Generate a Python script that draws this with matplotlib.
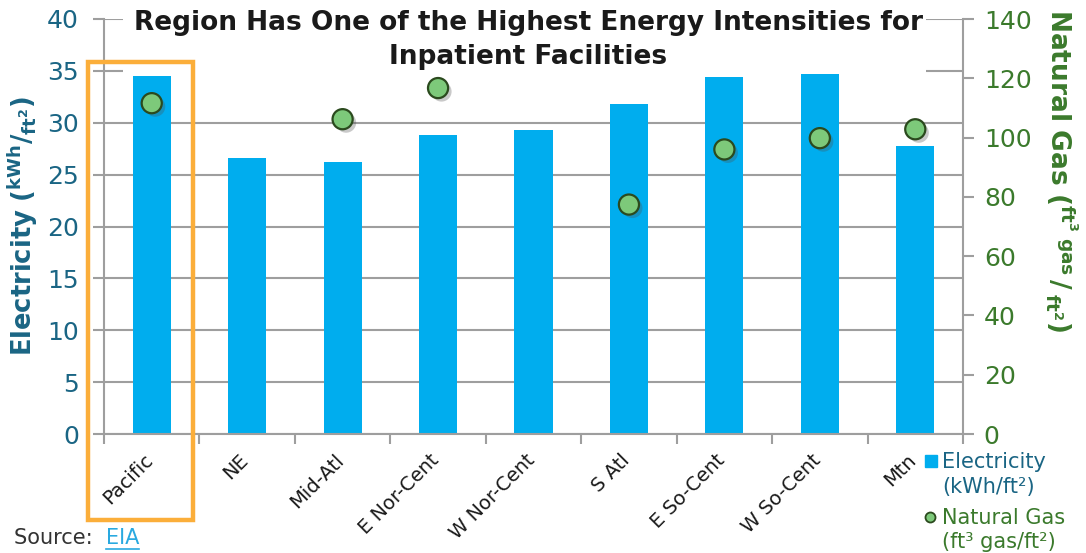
import matplotlib
matplotlib.use("Agg")
import matplotlib.pyplot as plt
import matplotlib.patheffects as pe
import matplotlib.transforms as mtransforms
from matplotlib.patches import Rectangle
from matplotlib.lines import Line2D
import numpy as np

# Energy intensity of inpatient facilities by census region
regions = ["Pacific", "NE", "Mid-Atl", "E Nor-Cent", "W Nor-Cent",
           "S Atl", "E So-Cent", "W So-Cent", "Mtn"]
electricity = [34.5, 26.6, 26.2, 28.8, 29.3, 31.8, 34.4, 34.8, 27.8]   # kWh/ft²
natural_gas = [111.6, np.nan, 106.2, 116.7, np.nan, 77.4, 96.0, 99.8, 102.8]  # ft³ gas/ft²

elec_ticks = list(range(0, 41, 5))
gas_ticks = list(range(0, 141, 20))

BAR = "#00ADEE"
TEAL = "#1A6584"
GREEN = "#3B7A2C"
DOT = "#7DC97A"
DOT_EDGE = "#2B4A1E"
GRID = "#9E9E9E"
ORANGE = "#FBAE3A"

W, H = 1086, 553

plt.rcParams["font.family"] = ["DejaVu Sans"]
plt.rcParams["mathtext.default"] = "regular"

fig = plt.figure(figsize=(W / 100, H / 100), dpi=100)
ax = fig.add_axes([104 / W, 1 - 434 / H, (963 - 104) / W, (434 - 19) / H])
ax2 = ax.twinx()

x = np.arange(len(regions))
ax.bar(x, electricity, width=0.4, color=BAR, zorder=2)

ax.set_xlim(-0.5, len(regions) - 0.5)
ax.set_ylim(0, 40)
ax.set_yticks(elec_ticks)
ax.grid(axis="y", color=GRID, linewidth=1.5, zorder=0)
ax.set_axisbelow(True)

# category labels at bar centres, tick marks on category boundaries
ax.set_xticks(x)
ax.set_xticklabels(regions, rotation=45, ha="right", va="center",
                   rotation_mode="anchor", fontsize=14, color="#1a1a1a")
ax.tick_params(axis="x", which="major", length=0, pad=17)
shift = mtransforms.ScaledTranslation(-2 / 100, 0, fig.dpi_scale_trans)
for lab in ax.get_xticklabels():
    lab.set_transform(lab.get_transform() + shift)
ax.set_xticks(np.arange(-0.5, len(regions), 1.0), minor=True)
ax.tick_params(axis="x", which="minor", length=7, width=1.5, color=GRID,
               direction="out")
ax.tick_params(axis="y", length=8, width=1.5, color=GRID, direction="out",
               labelsize=18, labelcolor=TEAL, pad=10)

for side in ("top", "right"):
    ax.spines[side].set_visible(False)
for side in ("left", "bottom"):
    ax.spines[side].set_color(GRID)
    ax.spines[side].set_linewidth(1.5)

ax.set_ylabel(r"$\mathbf{Electricity}\ \mathbf{(}^{\mathbf{kWh}}\mathbf{/}_{\mathbf{ft^{2}}}\mathbf{)}$",
              fontsize=18.5, color=TEAL)
ax.yaxis.set_label_coords(-0.075, 0.5)

# natural gas on the secondary axis
sc = ax2.scatter(x, natural_gas, s=210, color=DOT, edgecolor=DOT_EDGE,
                 linewidth=1.6, zorder=3)
sc.set_path_effects([pe.SimplePatchShadow(offset=(2.5, -2.5), alpha=0.3,
                                          shadow_rgbFace="#4d4d4d"),
                     pe.Normal()])
ax2.set_ylim(0, 140)
ax2.set_yticks(gas_ticks)
ax2.tick_params(axis="y", length=8, width=1.5, color=GRID, direction="out",
                labelsize=18, labelcolor=GREEN, pad=7)
for side in ("top", "left", "bottom"):
    ax2.spines[side].set_visible(False)
ax2.spines["right"].set_color(GRID)
ax2.spines["right"].set_linewidth(1.5)
ax2.set_ylabel(r"$\mathbf{Natural\ Gas}\ \mathbf{(}^{\mathbf{ft^{3}\ gas}}\,\mathbf{/}\,_{\mathbf{ft^{2}}}\mathbf{)}$",
               fontsize=19, color=GREEN, rotation=-90, va="bottom")
ax2.yaxis.set_label_coords(1.093, 0.635)

# white panel behind the title
fig.patches.append(Rectangle((123 / W, 1 - 74 / H), (926 - 123) / W, 74 / H,
                             transform=fig.transFigure, facecolor="white",
                             edgecolor="none", zorder=5))
fig.text(528 / W, 1 - 40 / H,
         "Region Has One of the Highest Energy Intensities for\nInpatient Facilities",
         ha="center", va="center", fontsize=19, fontweight="bold",
         color="#1a1a1a", linespacing=1.4, zorder=6)

# highlight box around the Pacific region
fig.add_artist(Rectangle((-0.668, -8.3), 1.1, 44.15, transform=ax.transData,
                         fill=False, edgecolor=ORANGE, linewidth=3.2,
                         zorder=7))

# legend keys and labels
fig.add_artist(Line2D([931 / W], [1 - 461 / H], transform=fig.transFigure,
                      marker="s", linestyle="none", markersize=8.8,
                      markerfacecolor=BAR, markeredgecolor=BAR))
fig.text(942 / W, 1 - 474.5 / H, "Electricity\n(kWh/ft²)", ha="left", va="center",
         fontsize=15, color=TEAL, linespacing=1.25)
fig.add_artist(Line2D([930 / W], [1 - 517 / H], transform=fig.transFigure,
                      marker="o", linestyle="none", markersize=7.2,
                      markerfacecolor=DOT, markeredgecolor=DOT_EDGE,
                      markeredgewidth=1.3))
fig.text(942 / W, 1 - 530.5 / H, "Natural Gas\n(ft³ gas/ft²)", ha="left", va="center",
         fontsize=15, color=GREEN, linespacing=1.25)

# source note with underlined link text
src = fig.text(14 / W, 1 - 538 / H, "Source:  ", ha="left", va="center",
               fontsize=15, color="#333333")
fig.canvas.draw()
bb = src.get_window_extent()
link = fig.text(bb.x1 / W, 1 - 538 / H, "EIA", ha="left", va="center",
                fontsize=15, color="#29A9E0")
fig.canvas.draw()
lb = link.get_window_extent()
fig.add_artist(Line2D([lb.x0 / W, lb.x1 / W], [(lb.y0 - 1) / H] * 2,
                      transform=fig.transFigure, color="#29A9E0", linewidth=1.2))

fig.savefig("out.png", dpi=100)
